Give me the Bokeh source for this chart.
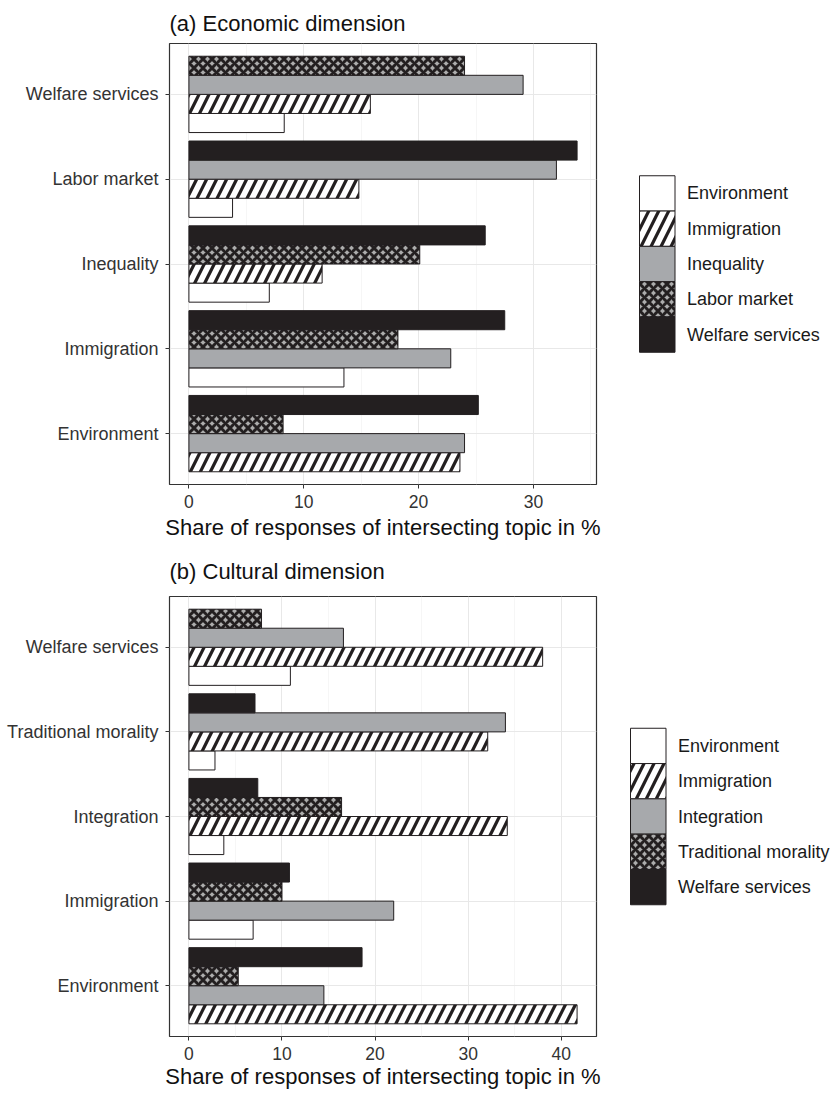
from bokeh.plotting import figure
from bokeh.models import Range1d, FixedTicker
from bokeh.layouts import row, column
from bokeh.embed import file_html
from bokeh.resources import INLINE
from bokeh.core.properties import value

# ---------------- data ----------------
econ_categories = ["Environment", "Immigration", "Inequality", "Labor market", "Welfare services"]
econ_environment = [None, 13.5, 7.0, 3.8, 8.3]
econ_immigration = [23.6, None, 11.6, 14.8, 15.8]
econ_inequality = [24.0, 22.8, None, 32.0, 29.1]
econ_labor_market = [8.2, 18.2, 20.1, None, 24.0]
econ_welfare = [25.2, 27.5, 25.8, 33.8, None]

cult_categories = ["Environment", "Immigration", "Integration", "Traditional morality", "Welfare services"]
cult_environment = [None, 6.9, 3.75, 2.8, 10.9]
cult_immigration = [41.7, None, 34.2, 32.1, 38.0]
cult_integration = [14.5, 22.0, None, 34.0, 16.6]
cult_trad_morality = [5.3, 10.0, 16.4, None, 7.8]
cult_welfare = [18.6, 10.8, 7.4, 7.1, None]

x_major = [0, 10, 20, 30, 40]
x_minor = [5, 15, 25, 35, 45]

TITLE_A = "(a) Economic dimension"
TITLE_B = "(b) Cultural dimension"
X_TITLE = "Share of responses of intersecting topic in %"

# ---------------- styles ----------------
INK = "#231f20"
FONT = "Liberation Sans"
STYLES = [
    dict(fill_color="white"),
    dict(fill_color="white", hatch_pattern="/", hatch_color=INK, hatch_scale=20, hatch_weight=3.2),
    dict(fill_color="#a7a9ac"),
    dict(fill_color="#acacac", hatch_pattern="x", hatch_color=INK, hatch_scale=9, hatch_weight=3.0),
    dict(fill_color=INK),
]
FRAME_LEFT = 169
FRAME_W = 427
RIGHT_B = 12


def panel(title, cats, series, top_b, frame_h, bottom_b, title_standoff, label_standoff):
    vals = [v for s in series for v in s if v is not None]
    xmax = max(vals)
    lo, hi = -0.05 * xmax, 1.05 * xmax
    p = figure(frame_width=FRAME_W, frame_height=frame_h,
               x_range=Range1d(lo, hi), y_range=Range1d(0.4, len(cats) + 0.6),
               output_backend="svg", toolbar_location=None,
               min_border_left=FRAME_LEFT, min_border_right=RIGHT_B,
               min_border_top=top_b, min_border_bottom=bottom_b)
    n = len(cats)
    for si, s in enumerate(series):
        ys, rs, hs = [], [], []
        for ci in range(n):
            if s[ci] is None:
                continue
            present = [k for k in range(len(series)) if series[k][ci] is not None]
            m = len(present)
            w = 0.9 / m
            k = present.index(si)
            ys.append(ci + 1 - 0.45 + w * (k + 0.5))
            rs.append(s[ci])
            hs.append(w)
        p.hbar(y=ys, left=0, right=rs, height=hs, line_color=INK, line_width=1, **STYLES[si])

    p.title.text = title
    p.title.text_font = FONT
    p.title.text_font_size = "22px"
    p.title.text_font_style = "normal"
    p.title.text_color = "#111111"
    p.title.align = "left"
    p.title.standoff = title_standoff

    p.xaxis.ticker = FixedTicker(ticks=[t for t in x_major if lo <= t <= hi],
                                 minor_ticks=[t for t in x_minor if lo <= t <= hi])
    p.yaxis.ticker = FixedTicker(ticks=list(range(1, n + 1)))
    p.yaxis.major_label_overrides = {i + 1: c for i, c in enumerate(cats)}

    for ax in (p.xaxis[0], p.yaxis[0]):
        ax.axis_line_color = None
        ax.major_tick_line_color = "#333333"
        ax.major_tick_out = 4
        ax.major_tick_in = 0
        ax.minor_tick_line_color = None
        ax.major_label_text_font = FONT
        ax.major_label_text_color = "#333333"
    p.xaxis.major_label_text_font_size = "17.5px"
    p.yaxis.major_label_text_font_size = "18px"
    p.yaxis.major_label_standoff = 7
    p.xaxis.major_label_standoff = 6
    p.xaxis.axis_label = X_TITLE
    p.xaxis.axis_label_text_font = FONT
    p.xaxis.axis_label_text_font_size = "22px"
    p.xaxis.axis_label_text_font_style = "normal"
    p.xaxis.axis_label_text_color = "#111111"
    p.xaxis.axis_label_standoff = label_standoff

    p.xgrid.grid_line_color = "#e8e8e8"
    p.xgrid.grid_line_width = 1
    p.xgrid.minor_grid_line_color = "#f2f2f2"
    p.xgrid.minor_grid_line_width = 0.7
    p.ygrid.grid_line_color = "#e8e8e8"
    p.ygrid.grid_line_width = 1
    p.outline_line_color = "#333333"
    p.outline_line_width = 1.2
    p.background_fill_color = "white"
    p.border_fill_color = "white"
    return p


def legend_fig(labels, top_b, frame_h, bottom_b, key_left, width):
    lf = figure(frame_width=width, frame_height=frame_h,
                x_range=Range1d(0, width), y_range=Range1d(frame_h, 0),
                min_border_left=0, min_border_right=0,
                min_border_top=top_b, min_border_bottom=bottom_b,
                toolbar_location=None, output_backend="svg",
                x_axis_type=None, y_axis_type=None)
    lf.outline_line_color = None
    lf.grid.visible = False
    key_h = 35.3
    key_w = 35.5
    top0 = frame_h / 2 - key_h * len(labels) / 2
    for i, lab in enumerate(labels):
        lf.quad(left=key_left, right=key_left + key_w,
                top=top0 + i * key_h, bottom=top0 + (i + 1) * key_h,
                line_color=INK, line_width=1, **STYLES[i])
    lf.text(x=[key_left + key_w + 12] * len(labels),
            y=[top0 + (i + 0.5) * key_h for i in range(len(labels))],
            text=labels, text_baseline="middle", text_align="left",
            text_font=value(FONT), text_font_size="18px", text_color="#1a1a1a")
    return lf


TOP_A, FH_A, BOT_A = 43, 441, 59
TOP_B, FH_B, BOT_B = 53, 440, 57
MAIN_W = FRAME_LEFT + FRAME_W + RIGHT_B
LEG_W = 830 - MAIN_W

pa = panel(TITLE_A, econ_categories,
           [econ_environment, econ_immigration, econ_inequality, econ_labor_market, econ_welfare],
           TOP_A, FH_A, BOT_A, 16, 4)
pb = panel(TITLE_B, cult_categories,
           [cult_environment, cult_immigration, cult_integration, cult_trad_morality, cult_welfare],
           TOP_B, FH_B, BOT_B, 26, 1)

la = legend_fig(econ_categories, TOP_A, FH_A, BOT_A, 639 - MAIN_W, LEG_W)
lb = legend_fig(cult_categories, TOP_B, FH_B, BOT_B, 630 - MAIN_W, LEG_W)

layout = column(row(pa, la), row(pb, lb))
open("out.html", "w").write(file_html(layout, INLINE))
